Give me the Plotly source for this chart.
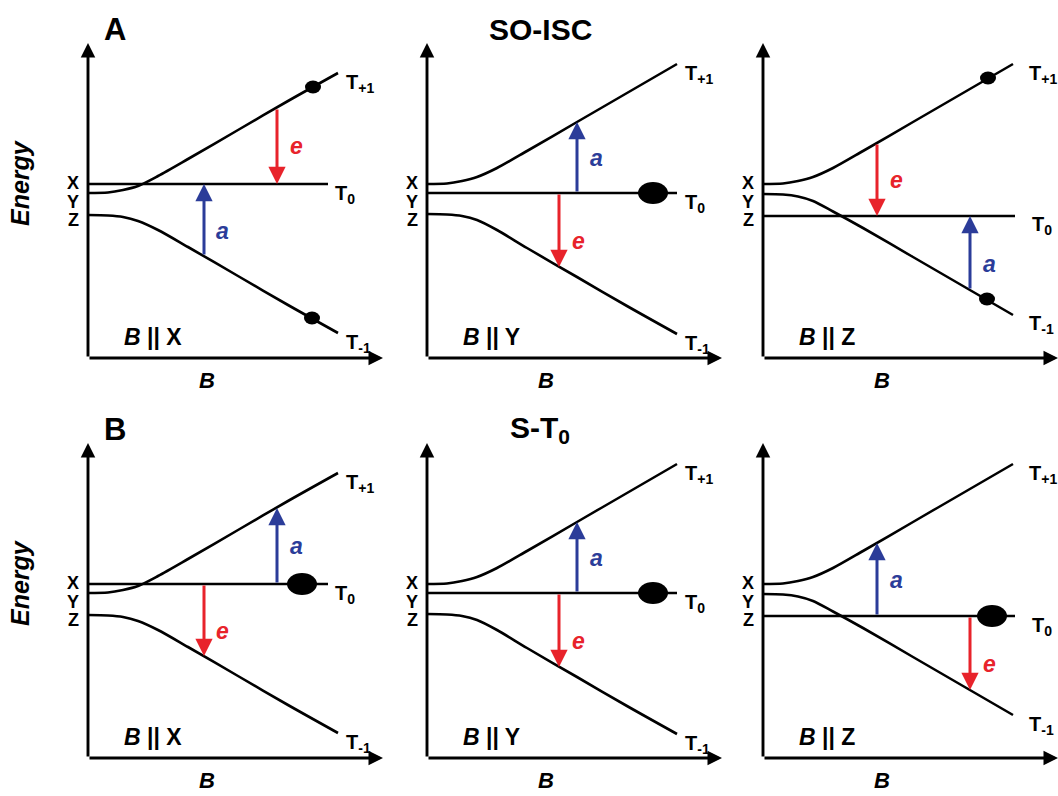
import plotly.graph_objects as go

# ---------------- data (units: B and Energy, arbitrary) ----------------
B_GRID = [0, 0.2, 0.35, 0.5, 0.7, 1.0, 1.5, 2.0, 2.5]

# Zeeman branches for B || X, B || Y, B || Z
T_PLUS_X = [1.65, 1.655, 1.68, 1.72, 1.82, 1.99, 2.28, 2.57, 2.85]
T_MINUS_X = [1.43, 1.425, 1.41, 1.37, 1.28, 1.11, 0.82, 0.53, 0.25]
T_PLUS_Y = [1.74, 1.745, 1.77, 1.81, 1.90, 2.07, 2.36, 2.65, 2.94]
T_MINUS_Y = [1.44, 1.435, 1.42, 1.38, 1.28, 1.10, 0.81, 0.52, 0.24]
T_PLUS_Z = [1.74, 1.745, 1.77, 1.81, 1.90, 2.07, 2.36, 2.65, 2.94]
T_MINUS_Z = [1.64, 1.635, 1.615, 1.57, 1.465, 1.30, 1.01, 0.72, 0.43]

T_ZERO_LEVEL = [1.74, 1.65, 1.42]      # T0 energy for X, Y, Z orientation
T_ZERO_END = [2.40, 2.50, 2.52]        # where the T0 line ends (B)

FIELD_AXES = ["X", "Y", "Z"]
ZERO_FIELD_LABELS = ["X", "Y", "Z"]
ROW_LETTERS = ["A", "B"]
ROW_TITLES = ["SO-ISC", "S-T<sub>0</sub>"]
BRANCH_LABELS = ["T<sub>+1</sub>", "T<sub>0</sub>", "T<sub>-1</sub>"]

# transitions: (kind, B, E_start, E_end)
ARROWS_A1 = [("e", 1.89, 2.50, 1.74), ("a", 1.16, 1.02, 1.74)]
ARROWS_A2 = [("a", 1.50, 1.65, 2.36), ("e", 1.32, 1.65, 0.91)]
ARROWS_A3 = [("e", 1.14, 2.15, 1.42), ("a", 2.07, 0.68, 1.42)]
ARROWS_B1 = [("a", 1.89, 1.74, 2.50), ("e", 1.16, 1.74, 1.02)]
ARROWS_B2 = [("a", 1.50, 1.65, 2.36), ("e", 1.32, 1.65, 0.91)]
ARROWS_B3 = [("a", 1.14, 1.42, 2.15), ("e", 2.07, 1.42, 0.68)]

# populations: (B, E, kind)
DOTS_A1 = [(2.25, 2.71, "small"), (2.24, 0.40, "small")]
DOTS_A2 = [(2.26, 1.65, "big")]
DOTS_A3 = [(2.25, 2.80, "small"), (2.24, 0.59, "small")]
DOTS_B1 = [(2.14, 1.74, "big")]
DOTS_B2 = [(2.26, 1.65, "big")]
DOTS_B3 = [(2.29, 1.42, "big")]

# ---------------- layout / style ----------------
W, H = 1058, 796
FONT = "Liberation Sans, Arial, Helvetica, sans-serif"
BLUE = "#2B3C99"
RED = "#E8232B"
COL_X0 = [88, 427, 763]
ROW_Y0 = [358, 758]
AX_W, AX_H = 295, 315
UNIT = 100.0
XMAX, YMAX = AX_W / UNIT, AX_H / UNIT
T_LABEL_DX = [0.06, 0.06, 0.14]
T0_LABEL_DX = [0.05, 0.06, 0.15]
DOT_SIZE = {"small": (0.16, 0.13), "big": (0.30, 0.22)}
XYZ_LABEL_E = [1.75, 1.565, 1.38]

T_PLUS = [T_PLUS_X, T_PLUS_Y, T_PLUS_Z]
T_MINUS = [T_MINUS_X, T_MINUS_Y, T_MINUS_Z]
ARROWS = [[ARROWS_A1, ARROWS_A2, ARROWS_A3], [ARROWS_B1, ARROWS_B2, ARROWS_B3]]
DOTS = [[DOTS_A1, DOTS_A2, DOTS_A3], [DOTS_B1, DOTS_B2, DOTS_B3]]


def to_paper(r, c, b, e):
    """Map a panel's (B, Energy) value onto paper fractions (same scale as the panel axes)."""
    return (COL_X0[c] + b * UNIT) / W, (H - ROW_Y0[r] + e * UNIT) / H


def text_ann(r, c, b, e, text, size, color="black", xanchor="center", angle=0):
    px, py = to_paper(r, c, b, e)
    return dict(x=px, y=py, xref="paper", yref="paper", showarrow=False, text=text,
                xanchor=xanchor, yanchor="middle", textangle=angle,
                font=dict(family=FONT, size=size, color=color))


fig = go.Figure()
annotations = []
shapes = []
LW = 2.6

n = 0
for r in range(2):
    for c in range(3):
        n += 1
        sfx = "" if n == 1 else str(n)
        xref, yref = "x" + sfx, "y" + sfx
        x0, y0 = COL_X0[c], ROW_Y0[r]
        fig.layout["xaxis" + sfx] = dict(domain=[x0 / W, (x0 + AX_W) / W], range=[0, XMAX],
                                         visible=False, fixedrange=True, anchor=yref)
        fig.layout["yaxis" + sfx] = dict(domain=[(H - y0) / H, (H - y0 + AX_H) / H], range=[0, YMAX],
                                         visible=False, fixedrange=True, anchor=xref)
        common = dict(xaxis=xref, yaxis=yref, mode="lines", showlegend=False, hoverinfo="skip")
        fig.add_trace(go.Scatter(x=B_GRID, y=T_PLUS[c],
                                 line=dict(color="black", width=LW, shape="spline", smoothing=0.8), **common))
        fig.add_trace(go.Scatter(x=B_GRID, y=T_MINUS[c],
                                 line=dict(color="black", width=LW, shape="spline", smoothing=0.8), **common))
        fig.add_trace(go.Scatter(x=[0, T_ZERO_END[c]], y=[T_ZERO_LEVEL[c]] * 2,
                                 line=dict(color="black", width=LW), **common))

        # axes with arrowheads
        for tip, tail in [((0, YMAX), (0, 0)), ((XMAX, 0), (0, 0))]:
            annotations.append(dict(x=tip[0], y=tip[1], ax=tail[0], ay=tail[1], xref=xref, yref=yref,
                                    axref=xref, ayref=yref, text="", showarrow=True, arrowhead=2,
                                    arrowsize=1.0, arrowwidth=2.9, arrowcolor="black", standoff=0))

        # transitions
        for kind, b, e0, e1 in ARROWS[r][c]:
            col = BLUE if kind == "a" else RED
            annotations.append(dict(x=b, y=e1, ax=b, ay=e0, xref=xref, yref=yref, axref=xref, ayref=yref,
                                    text="", showarrow=True, arrowhead=2, arrowsize=1.15, arrowwidth=3,
                                    arrowcolor=col, standoff=0))
            mid = (e0 + e1) / 2
            dy = -0.11 if mid < 1.5 else 0.0
            annotations.append(text_ann(r, c, b + 0.19, mid + dy, "<b><i>%s</i></b>" % kind, 23, col))

        # populations
        for b, e, kind in DOTS[r][c]:
            w, h = DOT_SIZE[kind]
            shapes.append(dict(type="circle", xref=xref, yref=yref, x0=b - w / 2, x1=b + w / 2,
                               y0=e - h / 2, y1=e + h / 2, fillcolor="black", line=dict(width=0)))

        # branch labels
        ends = [T_PLUS[c][-1], T_ZERO_LEVEL[c], T_MINUS[c][-1]]
        xs = [B_GRID[-1] + T_LABEL_DX[c], T_ZERO_END[c] + T0_LABEL_DX[c], B_GRID[-1] + T_LABEL_DX[c]]
        for lab, xv, ev in zip(BRANCH_LABELS, xs, ends):
            annotations.append(text_ann(r, c, xv, ev - 0.1, "<b>%s</b>" % lab, 20, xanchor="left"))

        # zero-field labels X Y Z
        for lab, ev in zip(ZERO_FIELD_LABELS, XYZ_LABEL_E):
            annotations.append(text_ann(r, c, -0.15, ev, "<b>%s</b>" % lab, 18))

        # B || axis
        annotations.append(text_ann(r, c, 0.34, 0.21, "<b><i>B</i> || %s</b>" % FIELD_AXES[c], 23,
                                    xanchor="left"))
        # x axis title
        annotations.append(text_ann(r, c, 1.19, -0.225, "<b><i>B</i></b>", 22))
        if c == 0:
            annotations.append(text_ann(r, c, -0.68, 1.75, "<b><i>Energy</i></b>", 25, angle=-90))

# row letters and titles
for r in range(2):
    annotations.append(dict(x=(COL_X0[0] + 27) / W, y=1 - (ROW_Y0[r] - 328) / H, xref="paper", yref="paper",
                            showarrow=False, text="<b>%s</b>" % ROW_LETTERS[r], xanchor="center",
                            yanchor="middle", font=dict(family=FONT, size=31, color="black")))
    annotations.append(dict(x=540 / W, y=1 - (ROW_Y0[r] - 329) / H, xref="paper", yref="paper",
                            showarrow=False, text="<b>%s</b>" % ROW_TITLES[r], xanchor="center",
                            yanchor="middle", font=dict(family=FONT, size=30, color="black")))

fig.update_layout(width=W, height=H, margin=dict(l=0, r=0, t=0, b=0),
                  paper_bgcolor="white", plot_bgcolor="rgba(0,0,0,0)",
                  annotations=annotations, shapes=shapes, showlegend=False)

fig.write_html("out.html", config={"displayModeBar": False},
               post_script="document.body.style.margin='0px';")
